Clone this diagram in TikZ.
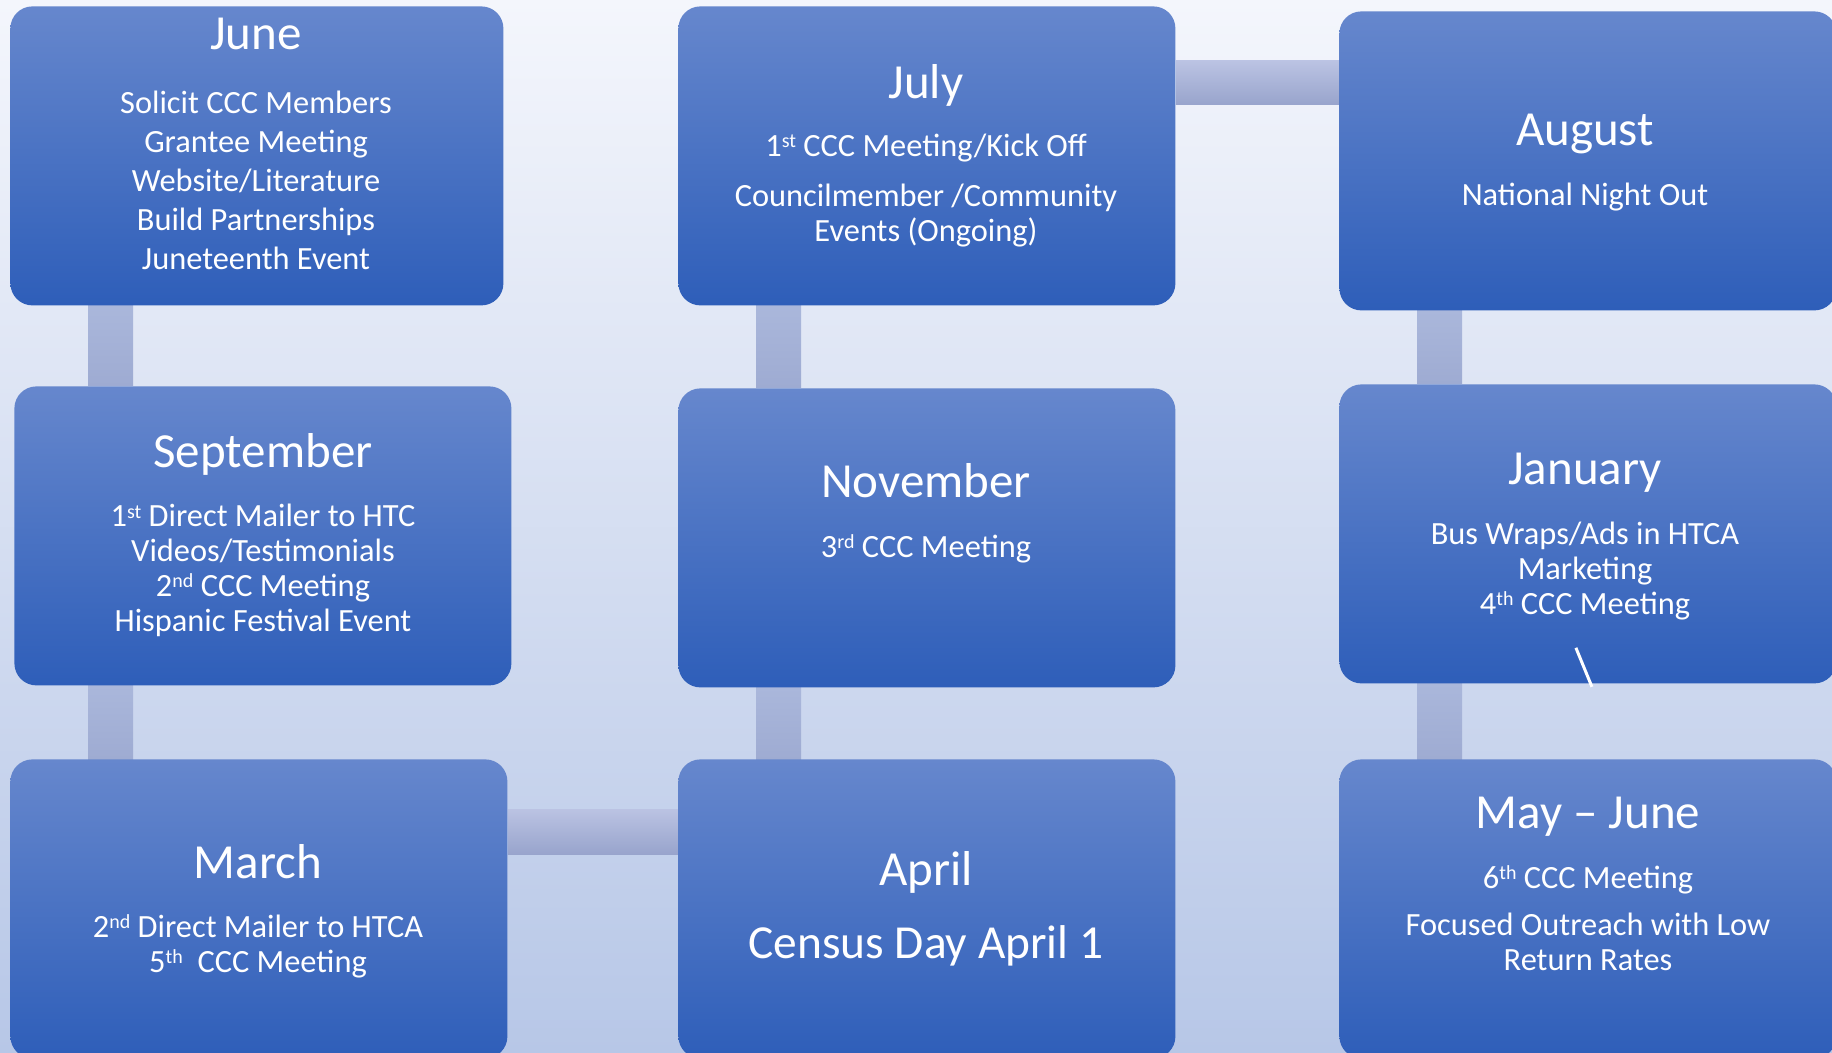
\documentclass[tikz,border=0pt]{standalone}
\usepackage{fontspec}
\setmainfont{Carlito}
\usetikzlibrary{backgrounds}

\definecolor{bgtop}{RGB}{244,246,252}
\definecolor{bgbot}{RGB}{183,199,231}
\definecolor{boxtop}{RGB}{102,135,205}
\definecolor{boxbot}{RGB}{46,94,185}
\definecolor{vbartop}{RGB}{170,183,219}
\definecolor{vbarbot}{RGB}{158,171,210}
\definecolor{hbartop}{RGB}{187,195,227}
\definecolor{hbarbot}{RGB}{152,164,204}

\newcommand\bodyfont{\fontsize{16.2pt}{17.5pt}\selectfont\lineskiplimit=-50pt}
\newcommand\junefont{\fontsize{16.2pt}{19.5pt}\selectfont\lineskiplimit=-50pt}
\newcommand\censusfont{\fontsize{23.7pt}{36.5pt}\selectfont\lineskiplimit=-50pt}
\newcommand\mtitle[1]{{\fontsize{24.5pt}{26pt}\selectfont #1}}
\newcommand\sups[1]{\raisebox{4.5pt}{\fontsize{10pt}{10pt}\selectfont #1}}

\begin{document}
\begin{tikzpicture}[x=0.5pt,y=-0.5pt]
\tikzstyle{box}=[rounded corners=11pt,inner sep=0pt,minimum width=248.5pt,minimum height=149.5pt,anchor=north west,top color=boxtop,bottom color=boxbot]
\tikzstyle{txt}=[text=white,text width=240pt,align=flush center,inner sep=0pt,anchor=base,font=\bodyfont]
\tikzstyle{vbar}=[top color=vbartop,bottom color=vbarbot]
\tikzstyle{hbar}=[top color=hbartop,bottom color=hbarbot]

\useasboundingbox (0,0) rectangle (1832,1053);
\clip (0,0) rectangle (1832,1053);

\node[box,minimum width=246.5pt] (jun) at (10,6) {};
\node[box] (jul) at (678,6) {};
\node[box] (aug) at (1339,11) {};
\node[box] (sep) at (14,386) {};
\node[box] (nov) at (678,388) {};
\node[box] (jan) at (1339,384) {};
\node[box] (mar) at (10,759) {};
\node[box] (apr) at (678,759) {};
\node[box] (may) at (1339,759) {};

\node[txt,font=\junefont] (jun-txt) at (256,50) {\mtitle{June}\\[12.5pt] Solicit CCC Members\\ Grantee Meeting\\ Website/Literature\\ Build Partnerships\\ Juneteenth Event};
\node[txt] (jul-txt) at (926,99) {\mtitle{July}\\[11.5pt] 1\sups{st} CCC Meeting/Kick Off\\[7.5pt] Councilmember /Community\\ Events (Ongoing)};
\node[txt] (aug-txt) at (1585,146) {\mtitle{August}\\[12.5pt] National Night Out};
\node[txt] (sep-txt) at (263,468) {\mtitle{September}\\[12pt] 1\sups{st} Direct Mailer to HTC\\ Videos/Testimonials\\ 2\sups{nd} CCC Meeting\\ Hispanic Festival Event};
\node[txt] (nov-txt) at (926,498) {\mtitle{November}\\[12.5pt] 3\sups{rd} CCC Meeting};
\node[txt] (jan-txt) at (1585,485) {\mtitle{January}\\[12.5pt] Bus Wraps/Ads in HTCA\\ Marketing\\ 4\sups{th} CCC Meeting};
\node[txt] (mar-txt) at (258,878) {\mtitle{March}\\[12pt] 2\sups{nd} Direct Mailer to HTCA\\ 5\sups{th}\ \ CCC Meeting};
\node[txt,font=\censusfont] (apr-txt) at (926,885) {\mtitle{April}\\ Census Day April 1};
\node[txt] (may-txt) at (1588,828) {\mtitle{May -- June}\\[12.5pt] 6\sups{th} CCC Meeting\\[6pt] Focused Outreach with Low\\ Return Rates};

% stray stroke in the January box
\draw[white,line width=1.5pt] ([shift={(-12,-36)}]jan.south) -- ([shift={(4,3)}]jan.south);

\begin{scope}[on background layer]
\fill[top color=bgtop,bottom color=bgbot] (0,0) rectangle (1832,1053);
% links down the columns
\fill[vbar] ([xshift=39pt]jun.south west) rectangle ([xshift=61.5pt]jun.south west |- sep.north);
\fill[vbar] ([xshift=39pt]mar.north west) rectangle ([xshift=61.5pt]mar.north west |- sep.south);
\fill[vbar] ([xshift=39pt]jul.south west) rectangle ([xshift=61.5pt]jul.south west |- nov.north);
\fill[vbar] ([xshift=39pt]apr.north west) rectangle ([xshift=61.5pt]apr.north west |- nov.south);
\fill[vbar] ([xshift=39pt]aug.south west) rectangle ([xshift=61.5pt]aug.south west |- jan.north);
\fill[vbar] ([xshift=39pt]may.north west) rectangle ([xshift=61.5pt]may.north west |- jan.south);
% links across
\fill[hbar] ([yshift=-27.5pt]jul.north east) rectangle ([yshift=-49.5pt]jul.north east -| aug.west);
\fill[hbar] ([yshift=-25pt]mar.north east) rectangle ([yshift=-47.5pt]mar.north east -| apr.west);
\end{scope}
\end{tikzpicture}
\end{document}
